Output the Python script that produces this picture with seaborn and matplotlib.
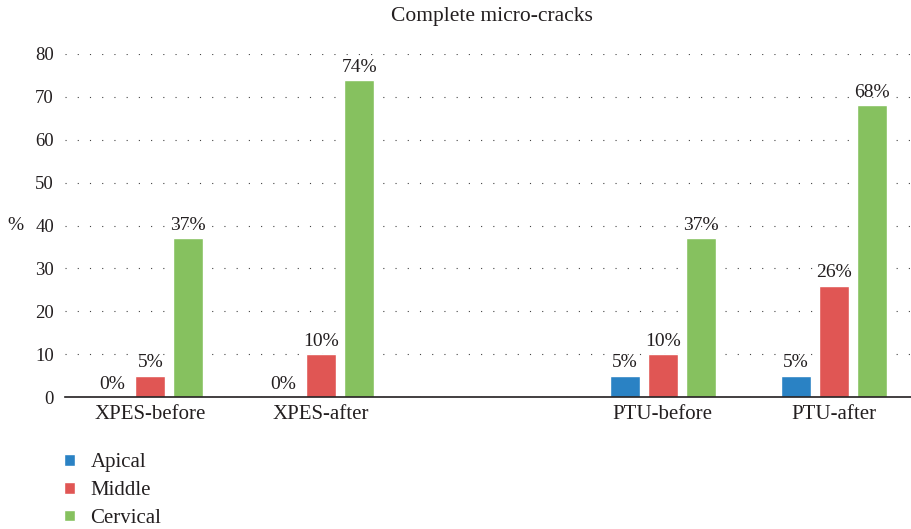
import matplotlib
matplotlib.use("Agg")
import matplotlib.pyplot as plt
import numpy as np
import pandas as pd
import seaborn as sns

# ── Data ──────────────────────────────────────────────────────────────────────
CATEGORIES = ["XPES-before", "XPES-after", " ", "PTU-before", "PTU-after"]
GROUPS = ["XPES-before", "XPES-after", "PTU-before", "PTU-after"]
SERIES = ["Apical", "Middle", "Cervical"]
APICAL = [0, 0, 5, 5]
MIDDLE = [5, 10, 10, 26]
CERVICAL = [37, 74, 37, 68]
COLORS = ["#2A82C4", "#E05654", "#86C15F"]

sns.set_theme(style="white")
plt.rcParams["font.family"] = ["Liberation Serif", "DejaVu Serif"]
TEXT = "#231F20"

rows = []
for name, vals in zip(SERIES, (APICAL, MIDDLE, CERVICAL)):
    for g, v in zip(GROUPS, vals):
        rows.append({"group": g, "series": name, "value": v})
df = pd.DataFrame(rows)

fig = plt.figure(figsize=(9.12, 5.29), dpi=100)
W, H = 912, 529
ax = fig.add_axes([65 / W, (H - 397) / H, (919 - 65) / W, (397 - 54) / H])

sns.barplot(data=df, x="group", y="value", hue="series", order=CATEGORIES,
            hue_order=SERIES, palette=COLORS, width=0.667, gap=0.21,
            saturation=1, errorbar=None, ax=ax)

handles, labels = ax.get_legend_handles_labels()
if ax.legend_ is not None:
    ax.legend_.remove()

for cont in ax.containers:
    vals = cont.datavalues
    labs = [f"{v:g}%" if np.isfinite(v) else "" for v in vals]
    ax.bar_label(cont, labels=labs, padding=3, fontsize=14, color=TEXT)

ax.set_xlim(-0.5, 4.5)
ax.set_ylim(0, 80)
ax.set_yticks(range(0, 81, 10))
ax.yaxis.grid(True, color="#444444", linewidth=0.8, linestyle=(0, (1, 10)))
ax.set_axisbelow(True)
for side in ("left", "right", "top"):
    ax.spines[side].set_visible(False)
ax.spines["bottom"].set_color("#231F20")
ax.spines["bottom"].set_linewidth(1.2)
ax.tick_params(axis="y", length=0, labelsize=13.5, colors=TEXT, pad=8)
ax.tick_params(axis="x", length=0, labelsize=15, colors=TEXT, pad=6)
ax.set_xlabel("")
ax.set_ylabel("%", rotation=0, fontsize=14, color=TEXT, labelpad=14, va="center")
ax.set_title("Complete micro-cracks", fontsize=15.5, color=TEXT, pad=24)

fig.legend(handles, labels, loc="upper left", bbox_to_anchor=(56 / W, 1 - 445 / H),
           frameon=False, fontsize=15, handlelength=0.5, handleheight=0.5,
           handletextpad=0.75, labelspacing=0.42, borderaxespad=0, labelcolor=TEXT)

fig.savefig("out.png", dpi=100)
